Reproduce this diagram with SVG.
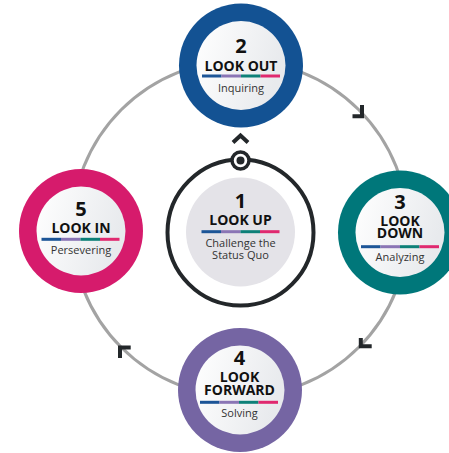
<svg xmlns="http://www.w3.org/2000/svg" width="449" height="453" viewBox="0 0 449 453">
<defs>
  <linearGradient id="inner" x1="0" y1="0" x2="1" y2="0.3">
    <stop offset="0" stop-color="#ffffff"/>
    <stop offset="1" stop-color="#e8eaed"/>
  </linearGradient>
  <g id="bar">
    <rect x="-39" y="-1.5" width="19.5" height="3" fill="#1c5597"/>
    <rect x="-19.5" y="-1.5" width="19.5" height="3" fill="#8a75b5"/>
    <rect x="0" y="-1.5" width="19.5" height="3" fill="#0d8078"/>
    <rect x="19.5" y="-1.5" width="19.5" height="3" fill="#e0296f"/>
  </g>
</defs>
<style>
  .ring{fill:none;stroke:#a3a3a3;stroke-width:3}
  .arrow{fill:none;stroke:#23272a;stroke-width:4;stroke-linecap:butt;stroke-linejoin:miter}
  .inner{fill:url(#inner)}
  .num{font-family:"Open Sans","DejaVu Sans",sans-serif;font-weight:700;font-size:20px;fill:#111;text-anchor:middle}
  .title{font-family:"Open Sans","DejaVu Sans",sans-serif;font-weight:700;font-size:14px;fill:#111;text-anchor:middle}
  .sub{font-family:"Open Sans","DejaVu Sans",sans-serif;font-size:11px;fill:#333;text-anchor:middle}
</style>
<rect width="449" height="453" fill="#ffffff"/>
<g id="connectors">
  <circle class="ring" cx="240" cy="228.5" r="168"/>
  <path class="arrow" d="M362,105 V116.3 H352.5"/>
  <path class="arrow" d="M360.8,338 V346.2 H371.7"/>
  <path class="arrow" d="M120,358 V347.5 H130.7"/>
</g>
<g id="node-1">
  <circle cx="240.5" cy="232.5" r="73" fill="#ffffff" stroke="#23272a" stroke-width="4"/>
  <circle cx="240.5" cy="232" r="54.5" fill="#e4e3e8"/>
  <circle cx="240.5" cy="160.5" r="8.5" fill="#ffffff" stroke="#23272a" stroke-width="3.5"/>
  <circle cx="240.5" cy="160.5" r="4" fill="#23272a"/>
  <path class="arrow" d="M233,142.5 L240.5,135.5 L248,142.5" stroke-width="3.5"/>
  <text class="num" x="240.5" y="208">1</text>
  <text class="title" x="240.5" y="225">LOOK UP</text>
  <use href="#bar" x="240.5" y="231.7"/>
  <text class="sub" x="240.5" y="246.5">Challenge the</text>
  <text class="sub" x="240.5" y="259">Status Quo</text>
</g>
<g id="node-2">
  <circle cx="241" cy="65.5" r="62" fill="#135293"/>
  <circle class="inner" cx="241" cy="65.5" r="44.5"/>
  <text class="num" x="241" y="53.3">2</text>
  <text class="title" x="241" y="71">LOOK OUT</text>
  <use href="#bar" x="241" y="76"/>
  <text class="sub" x="241" y="92">Inquiring</text>
</g>
<g id="node-3">
  <circle cx="400" cy="232.5" r="62" fill="#00777a"/>
  <circle class="inner" cx="400" cy="232.5" r="44.5"/>
  <text class="num" x="400" y="209.3">3</text>
  <text class="title" x="400" y="226">LOOK</text>
  <text class="title" x="400" y="238.3">DOWN</text>
  <use href="#bar" x="400" y="246.7"/>
  <text class="sub" x="400" y="261">Analyzing</text>
</g>
<g id="node-4">
  <circle cx="240" cy="390" r="62" fill="#7565a3"/>
  <circle class="inner" cx="240" cy="390" r="44.5"/>
  <text class="num" x="239.5" y="365">4</text>
  <text class="title" x="239.5" y="381.7">LOOK</text>
  <text class="title" x="239.5" y="395">FORWARD</text>
  <use href="#bar" x="239" y="402.3"/>
  <text class="sub" x="239.5" y="417">Solving</text>
</g>
<g id="node-5">
  <circle cx="81" cy="231" r="62" fill="#d61b6c"/>
  <circle class="inner" cx="81" cy="231" r="44.5"/>
  <text class="num" x="81" y="215.7">5</text>
  <text class="title" x="81" y="232.7">LOOK IN</text>
  <use href="#bar" x="80.5" y="239.3"/>
  <text class="sub" x="81" y="254">Persevering</text>
</g>
</svg>
